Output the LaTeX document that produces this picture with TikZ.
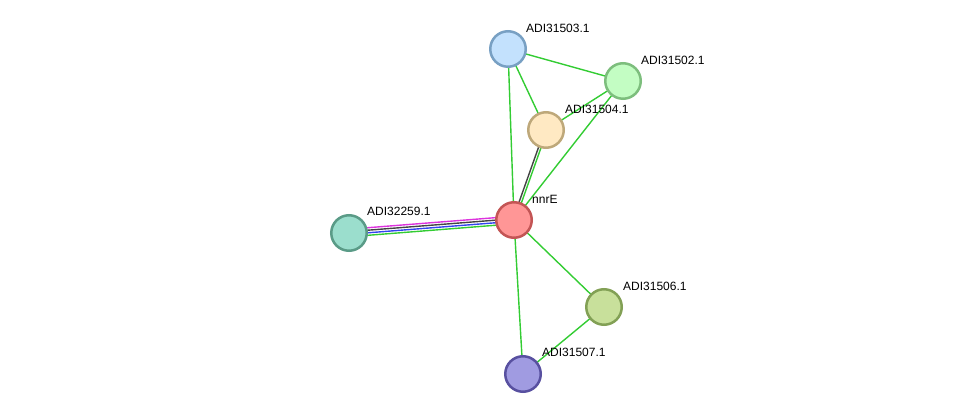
\documentclass[tikz,border=0pt]{standalone}
\usepackage{fontspec}
\setmainfont{Liberation Sans}
\usetikzlibrary{backgrounds}
\definecolor{eg}{HTML}{33CC33}
\definecolor{ek}{HTML}{444444}
\definecolor{em}{HTML}{DD33DD}
\definecolor{eb}{HTML}{3344EE}
\tikzset{
  prot/.style={circle, minimum size=35.5pt, inner sep=0pt, line width=2.5pt},
  lbl/.style={anchor=south west, inner sep=0pt, font=\fontsize{12}{14}\selectfont},
  edge/.style={line width=1.4pt, eg}
}
\begin{document}
\begin{tikzpicture}[x=1pt,y=-1pt]
\useasboundingbox (0,0) rectangle (976,419);
\node[prot, fill={rgb,255:red,255;green,150;blue,150}, draw={rgb,255:red,195;green,85;blue,85}] (nnrE) at (514,220) {};
\node[prot, fill={rgb,255:red,155;green,222;blue,205}, draw={rgb,255:red,90;green,155;blue,135}] (n259) at (349,233) {};
\node[prot, fill={rgb,255:red,195;green,225;blue,253}, draw={rgb,255:red,120;green,160;blue,195}] (n503) at (508,49) {};
\node[prot, fill={rgb,255:red,195;green,253;blue,195}, draw={rgb,255:red,125;green,190;blue,125}] (n502) at (623,81) {};
\node[prot, fill={rgb,255:red,255;green,233;blue,195}, draw={rgb,255:red,190;green,168;blue,122}] (n504) at (546,130) {};
\node[prot, fill={rgb,255:red,200;green,224;blue,155}, draw={rgb,255:red,130;green,160;blue,85}] (n506) at (604,307) {};
\node[prot, fill={rgb,255:red,160;green,155;blue,225}, draw={rgb,255:red,88;green,80;blue,160}] (n507) at (523,374) {};
\node[lbl] (l0) at (532,204) {nnrE};
\node[lbl] (l1) at (367,216) {ADI32259.1};
\node[lbl] (l2) at (526,33) {ADI31503.1};
\node[lbl] (l3) at (641,65) {ADI31502.1};
\node[lbl] (l4) at (565,114) {ADI31504.1};
\node[lbl] (l5) at (623,291) {ADI31506.1};
\node[lbl] (l6) at (542,357) {ADI31507.1};
\begin{pgfonlayer}{background}
\draw[edge] (n503.center) -- (n502.center);
\draw[edge] (n503.center) -- (n504.center);
\draw[edge] (n503.center) -- (nnrE.center);
\draw[edge] (n502.center) -- (n504.center);
\draw[edge] (n502.center) -- (nnrE.center);
\draw[edge] (nnrE.center) -- (n506.center);
\draw[edge] (nnrE.center) -- (n507.center);
\draw[edge] (n506.center) -- (n507.center);
\draw[edge, ek, transform canvas={xshift=-1.3pt}] (nnrE.center) -- (n504.center);
\draw[edge, eg, transform canvas={xshift=1.3pt}] (nnrE.center) -- (n504.center);
\draw[edge, em, transform canvas={yshift=3.8pt}] (nnrE.center) -- (n259.center);
\draw[edge, ek, transform canvas={yshift=1.3pt}] (nnrE.center) -- (n259.center);
\draw[edge, eb, transform canvas={yshift=-1.3pt}] (nnrE.center) -- (n259.center);
\draw[edge, eg, transform canvas={yshift=-3.8pt}] (nnrE.center) -- (n259.center);
\end{pgfonlayer}
\end{tikzpicture}
\end{document}
